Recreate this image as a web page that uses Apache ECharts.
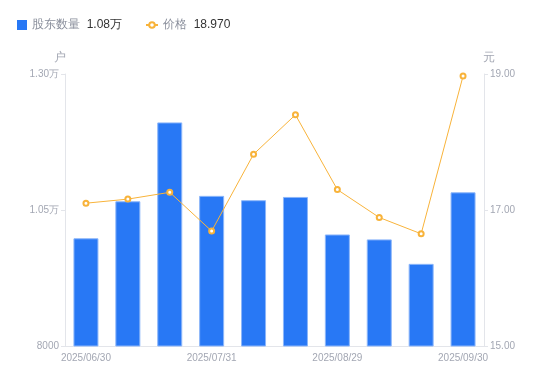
<!DOCTYPE html>
<html><head><meta charset="utf-8">
<script src="https://cdn.jsdelivr.net/npm/echarts@6/dist/echarts.min.js"></script>
<style>html,body{margin:0;padding:0;background:#fff}#c{width:550px;height:381px}</style>
</head><body><div id="c"></div>
<script>
const categories = ['2025/06/30','2025/07/10','2025/07/20','2025/07/31','2025/08/10','2025/08/20','2025/08/29','2025/09/10','2025/09/19','2025/09/30'];
const holders = [9980, 10660, 12110, 10760, 10680, 10740, 10050, 9960, 9510, 10825];
const prices = [17.10, 17.16, 17.26, 16.69, 17.82, 18.40, 17.30, 16.89, 16.65, 18.97];
const leftTicks = [8000, 10500, 13000];
const rightTicks = [15, 17, 19];
const legendValues = {'股东数量': '1.08万', '价格': '18.970'};

const chart = echarts.init(document.getElementById('c'));
const fmtLeft = v => v >= 10000 ? (v / 10000).toFixed(2) + '万' : String(v);
const labelColor = '#a3a7b3';
const legendText = {rich: {n: {color: '#8a8f9c', fontSize: 12}, v: {color: '#333', fontSize: 12}}};
const legendFmt = n => '{n|' + n + '}  {v|' + legendValues[n] + '}';
chart.setOption({
  animation: false,
  textStyle: {fontFamily: 'sans-serif'},
  legend: [{
    left: 12, top: 14, itemWidth: 10, itemHeight: 10, itemGap: 5,
    formatter: legendFmt, textStyle: legendText,
    data: [{name: '股东数量', icon: 'rect', itemStyle: {borderWidth: 0}}]
  }, {
    left: 140, top: 14, itemWidth: 12, itemHeight: 7, itemGap: 5,
    formatter: legendFmt, textStyle: legendText,
    data: [{name: '价格'}]
  }],
  grid: {left: 65, right: 66, top: 74, bottom: 35},
  xAxis: {
    type: 'category', data: categories,
    axisLine: {lineStyle: {color: '#e3e5ea'}},
    axisTick: {show: false},
    axisLabel: {color: labelColor, fontSize: 10, interval: 2, margin: 7}
  },
  yAxis: [{
    type: 'value', min: leftTicks[0], max: leftTicks[2], interval: 2500,
    name: '户', nameTextStyle: {color: labelColor, fontSize: 12, padding: [0, 10, 0, 0]}, nameGap: 10,
    axisLine: {show: true, lineStyle: {color: '#e3e5ea'}},
    axisTick: {show: true, length: 4, lineStyle: {color: '#e3e5ea'}},
    axisLabel: {color: labelColor, fontSize: 10, formatter: fmtLeft, margin: 6},
    splitLine: {show: false}
  }, {
    type: 'value', min: rightTicks[0], max: rightTicks[2], interval: 2,
    name: '元', nameTextStyle: {color: labelColor, fontSize: 12, padding: [0, 0, 0, 10]}, nameGap: 10,
    axisLine: {show: true, lineStyle: {color: '#e3e5ea'}},
    axisTick: {show: true, length: 4, lineStyle: {color: '#e3e5ea'}},
    axisLabel: {color: labelColor, fontSize: 10, formatter: v => v.toFixed(2), margin: 6},
    splitLine: {show: false}
  }],
  series: [{
    name: '股东数量', type: 'bar', data: holders, barWidth: 25, yAxisIndex: 0,
    itemStyle: {color: '#2878f5', borderColor: '#8cb6fa', borderWidth: 1}
  }, {
    name: '价格', type: 'line', data: prices, yAxisIndex: 1,
    symbol: 'emptyCircle', symbolSize: 5,
    lineStyle: {color: '#f8b33a', width: 1},
    itemStyle: {color: '#f8b33a', borderWidth: 2}
  }]
});
</script></body></html>
